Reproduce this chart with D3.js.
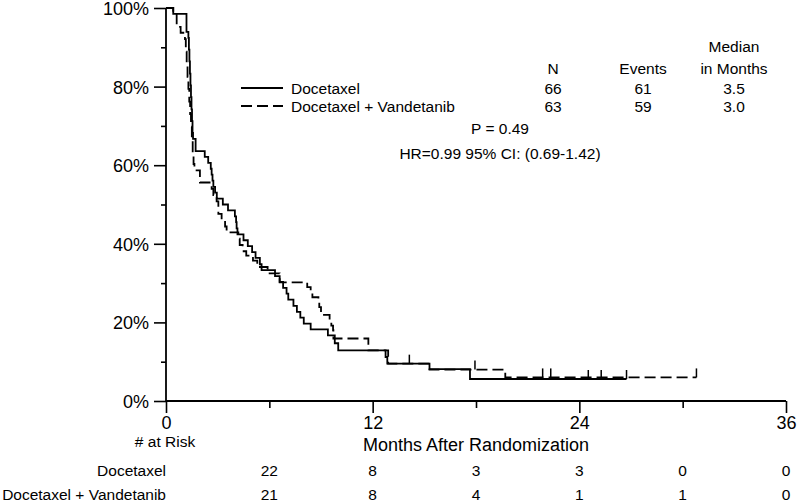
<!DOCTYPE html>
<html><head><meta charset="utf-8">
<script src="https://cdn.jsdelivr.net/npm/d3@7"></script>
<style>
body{margin:0;background:#fff}
svg{display:block}
text{font-family:"Liberation Sans",Arial,sans-serif;fill:#000}
</style>
</head><body>
<svg id="chart" width="799" height="504"></svg>
<script>
// ---- data ----
const seriesNames = ["Docetaxel", "Docetaxel + Vandetanib"];
const nValues = [66, 63];
const eventValues = [61, 59];
const medianValues = ["3.5", "3.0"];
const pText = "P = 0.49";
const hrText = "HR=0.99 95% CI: (0.69-1.42)";

const docTime = [0,0.42,1.19,1.30,1.33,1.36,1.39,1.42,1.45,1.48,1.51,1.54,1.57,1.72,2.25,2.45,2.6,2.65,2.7,2.75,2.85,2.95,3.3,3.6,4.0,4.07,4.1,4.15,4.5,4.75,5.0,5.2,5.45,5.55,6.33,6.6,6.8,7.0,7.1,7.4,7.6,7.8,8.0,8.4,9.4,9.8,10.0,12.75,12.85,15.3,17.65];
const docSurv = [100,98.5,93.9,92.4,89.4,86.4,83.3,80.3,77.3,74.2,71.2,68.2,66.7,63.6,62.1,60.6,59.1,57.6,56.1,54.5,53.0,51.5,50.0,48.5,47.0,45.5,43.9,42.4,40.9,39.4,37.9,36.4,34.8,33.3,31.8,30.3,28.8,27.3,25.8,24.2,22.7,21.2,19.7,18.2,16.7,14.7,12.9,11.2,9.5,8.1,5.6];
const docEnd = 26.74;
const docCensor = [14.13, 24.52, 25.27, 26.74];

const vanTime = [0,0.42,0.62,0.85,1.1,1.15,1.2,1.25,1.3,1.35,1.4,1.45,1.5,1.55,1.6,1.65,1.97,2.65,2.75,2.94,3.04,3.23,3.43,3.52,4.2,4.28,4.45,4.66,5.05,5.3,5.9,6.6,8.2,8.4,8.5,8.85,8.9,9.0,9.1,9.5,9.6,9.7,9.72,11.75,12.9,15.3,19.7];
const vanSurv = [100,98.4,95.2,93.7,92.1,88.9,85.7,82.5,79.4,76.2,73.0,69.8,66.7,63.5,60.3,58.7,55.6,54.0,52.4,50.8,47.6,46.0,44.4,42.9,41.3,39.7,38.1,37.0,35.7,34.1,32.5,30.2,29.0,27.7,26.4,25.1,23.9,22.6,21.9,20.5,19.2,18.0,15.9,12.9,9.5,8.0,6.0];
const vanEnd = 30.8;
const vanCensor = [17.94, 21.87, 22.34, 30.8];

const xMajorTicks = [0, 12, 24, 36];
const xMinorTicks = [6, 18, 30];
const yMajorTicks = [0, 20, 40, 60, 80, 100];
const yMinorTicks = [10, 30, 50, 70, 90];

const riskTimes = [6, 12, 18, 24, 30, 36];
const docRisk = [22, 8, 3, 3, 0, 0];
const vanRisk = [21, 8, 4, 1, 1, 0];

// ---- layout ----
const svg = d3.select("#chart");
const x = d3.scaleLinear().domain([0, 36]).range([166, 786]);
const y = d3.scaleLinear().domain([0, 100]).range([401, 8]);
const FONT = "Liberation Sans, Arial, sans-serif";

// axes
const gx = svg.append("g").attr("transform", `translate(0,${y(0)})`);
gx.call(d3.axisBottom(x).tickValues(xMajorTicks).tickSize(12).tickPadding(3).tickFormat(d3.format("d")));
const gxm = svg.append("g").attr("transform", `translate(0,${y(0)})`);
gxm.call(d3.axisBottom(x).tickValues(xMinorTicks).tickSize(7).tickFormat(""));
gxm.select(".domain").remove();

const gy = svg.append("g").attr("transform", `translate(${x(0)},0)`);
gy.call(d3.axisLeft(y).tickValues(yMajorTicks).tickSize(12).tickPadding(5).tickFormat(d => d + "%"));
const gym = svg.append("g").attr("transform", `translate(${x(0)},0)`);
gym.call(d3.axisLeft(y).tickValues(yMinorTicks).tickSize(5).tickFormat(""));
gym.select(".domain").remove();

svg.selectAll(".domain").attr("stroke", "#000").attr("stroke-width", 1.8);
svg.selectAll(".tick line").attr("stroke", "#000").attr("stroke-width", 1.6);
gx.selectAll(".domain").attr("d", `M${x(0)},0H${x(36)}`);
gy.selectAll(".domain").attr("d", `M0,${y(100)}V${y(0)}`);
gx.selectAll(".tick text").attr("font-size", 18).attr("font-family", FONT).attr("dy", "0.74em");
gy.selectAll(".tick text").attr("font-size", 18).attr("font-family", FONT).attr("dy", "0.36em");

svg.append("text").attr("x", (x(0) + x(36)) / 2).attr("y", 451).attr("text-anchor", "middle")
  .attr("font-size", 18).text("Months After Randomization");

// curves
const line = d3.line().x(d => x(d[0])).y(d => y(d[1])).curve(d3.curveStepAfter);
function survAt(times, surv, t) {
  const i = d3.bisectRight(times, t) - 1;
  return surv[Math.max(0, i)];
}
function drawSeries(times, surv, endT, censor, dash) {
  const pts = times.map((t, i) => [t, surv[i]]);
  pts.push([endT, surv[surv.length - 1]]);
  svg.append("path").datum(pts).attr("d", line).attr("fill", "none")
    .attr("stroke", "#000").attr("stroke-width", 1.8)
    .attr("stroke-dasharray", dash ? "11,5" : null);
  svg.selectAll(null).data(censor).enter().append("line")
    .attr("x1", d => x(d)).attr("x2", d => x(d))
    .attr("y1", d => y(survAt(times, surv, d)))
    .attr("y2", d => y(survAt(times, surv, d)) - 9)
    .attr("stroke", "#000").attr("stroke-width", 1.5);
}
drawSeries(docTime, docSurv, docEnd, docCensor, false);
drawSeries(vanTime, vanSurv, vanEnd, vanCensor, true);

// legend
const lg = svg.append("g").attr("font-size", 15.5);
const rowY = [88, 106];
const colN = 553, colE = 643, colM = 734;
lg.append("text").attr("x", colM).attr("y", 52).attr("text-anchor", "middle").text("Median");
lg.append("text").attr("x", colN).attr("y", 74).attr("text-anchor", "middle").text("N");
lg.append("text").attr("x", colE).attr("y", 74).attr("text-anchor", "middle").text("Events");
lg.append("text").attr("x", colM).attr("y", 74).attr("text-anchor", "middle").text("in Months");
seriesNames.forEach((name, i) => {
  lg.append("line").attr("x1", 241).attr("x2", 283).attr("y1", rowY[i]).attr("y2", rowY[i])
    .attr("stroke", "#000").attr("stroke-width", 1.8).attr("stroke-dasharray", i === 1 ? "11,5" : null);
  lg.append("text").attr("x", 291).attr("y", rowY[i] + 5.5).text(name);
  lg.append("text").attr("x", colN).attr("y", rowY[i] + 5.5).attr("text-anchor", "middle").text(nValues[i]);
  lg.append("text").attr("x", colE).attr("y", rowY[i] + 5.5).attr("text-anchor", "middle").text(eventValues[i]);
  lg.append("text").attr("x", colM).attr("y", rowY[i] + 5.5).attr("text-anchor", "middle").text(medianValues[i]);
});
lg.append("text").attr("x", 500).attr("y", 134).attr("text-anchor", "middle").text(pText);
lg.append("text").attr("x", 500).attr("y", 159).attr("text-anchor", "middle").text(hrText);

// at-risk table
const rt = svg.append("g").attr("font-size", 15.5);
rt.append("text").attr("x", 165).attr("y", 447).attr("text-anchor", "middle").text("# at Risk");
const riskRows = [docRisk, vanRisk];
const riskY = [475.5, 499.5];
riskRows.forEach((vals, i) => {
  rt.append("text").attr("x", 166).attr("y", riskY[i]).attr("text-anchor", "end").text(seriesNames[i]);
  rt.selectAll(null).data(riskTimes).enter().append("text")
    .attr("x", d => x(d)).attr("y", riskY[i]).attr("text-anchor", "middle")
    .text((d, j) => vals[j]);
});
</script>
</body></html>
